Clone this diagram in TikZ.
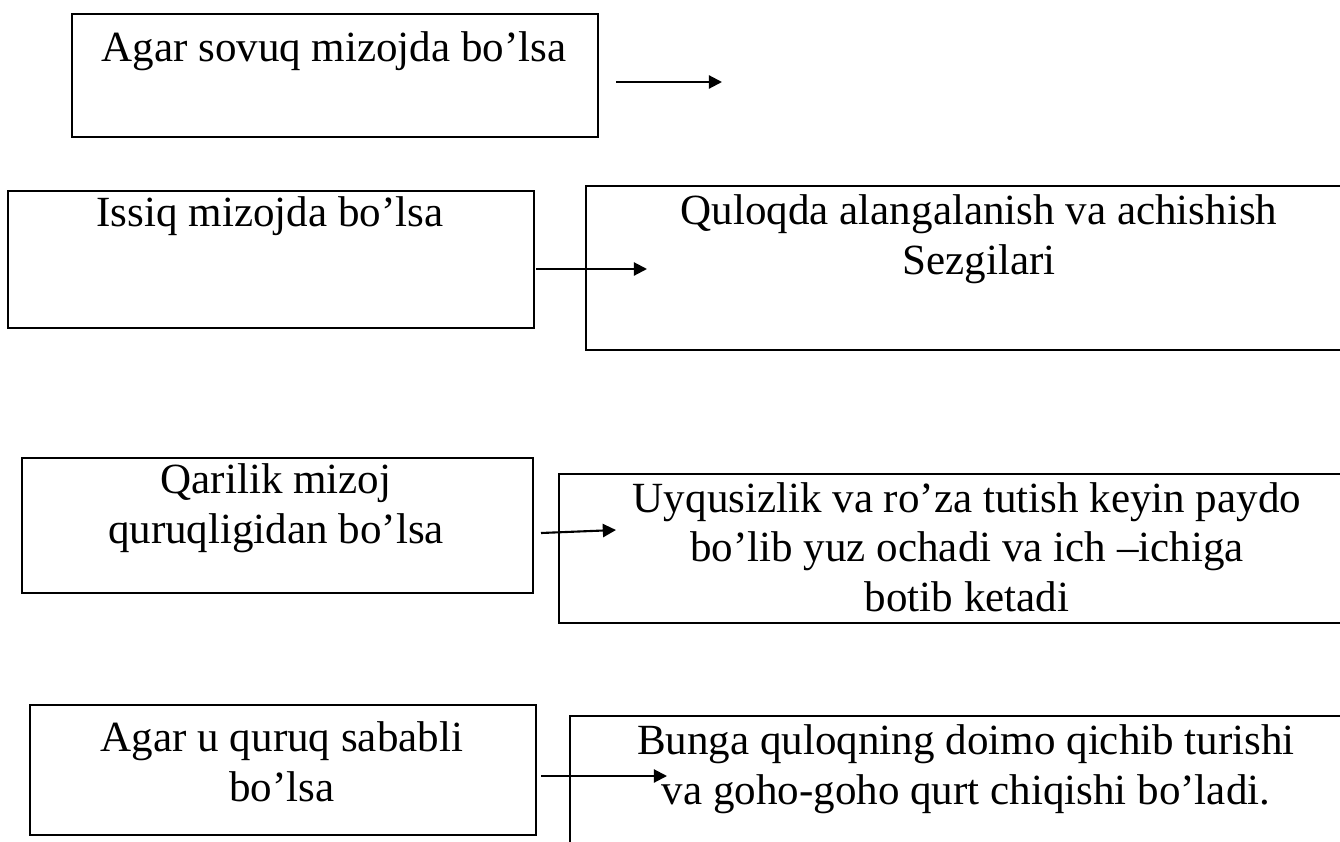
\documentclass[tikz,border=0pt]{standalone}
\usepackage{fontspec}
\setmainfont{Liberation Serif}
\usepackage{tikz}
\usetikzlibrary{arrows.meta, positioning}

\begin{document}
\begin{tikzpicture}[
    x=0.02cm, y=-0.02cm,
    box/.style={draw, line width=1.3pt, anchor=north west, inner sep=0pt},
    txt/.style={anchor=base, align=center, inner sep=0pt,
                font=\fontsize{24.5pt}{28pt}\selectfont},
    arr/.style={-{Triangle[length=7.5pt, width=7.5pt]}, line width=1.2pt},
]
    \useasboundingbox (0,0) rectangle (1340,842);
    \clip (0,0) rectangle (1340,842);

    % left column
    \node[box, minimum width=10.52cm, minimum height=2.46cm] (b1) at (71,13) {};
    \node[box, minimum width=10.52cm, minimum height=2.74cm] (b2) at (7,190) {};
    \node[box, minimum width=10.22cm, minimum height=2.70cm] (b4) at (21,457) {};
    \node[box, minimum width=10.12cm, minimum height=2.60cm] (b6) at (29,704) {};

    % right column (runs past the page edge)
    \node[box, minimum width=15.80cm, minimum height=3.28cm] (b3) at (585,185) {};
    \node[box, minimum width=16.36cm, minimum height=2.98cm] (b5) at (558,473) {};
    \node[box, minimum width=15.88cm, minimum height=4.00cm] (b7) at (569,715) {};

    % text, anchored at the baseline of the last line
    \node[txt] (t1) at (334,61) {Agar sovuq mizojda bo’lsa};
    \node[txt] (t2) at (270,226) {Issiq mizojda bo’lsa};
    \node[txt] (t3) at (979,274) {Quloqda alangalanish va achishish\\Sezgilari};
    \node[txt] (t4) at (276,543) {Qarilik mizoj\\quruqligidan bo’lsa};
    \node[txt] (t5) at (967,611) {Uyqusizlik va ro’za tutish keyin paydo\\bo’lib yuz ochadi va ich –ichiga\\botib ketadi};
    \node[txt] (t6) at (282,801) {Agar u quruq sababli\\bo’lsa};
    \node[txt] (t7) at (966,804) {Bunga quloqning doimo qichib turishi\\va goho-goho qurt chiqishi bo’ladi.};

    % arrow ends
    \coordinate (a1s) at (616,82);  \coordinate (a1e) at (722,82);
    \coordinate (a2s) at (536,269); \coordinate (a2e) at (647,269);
    \coordinate (a3s) at (541,533); \coordinate (a3e) at (616,530);
    \coordinate (a4s) at (541,776); \coordinate (a4e) at (667,776);

    \draw[arr] (a1s) -- (a1e);
    \draw[arr] (a2s) -- (a2e);
    \draw[arr] (a3s) -- (a3e);
    \draw[arr] (a4s) -- (a4e);
\end{tikzpicture}
\end{document}
